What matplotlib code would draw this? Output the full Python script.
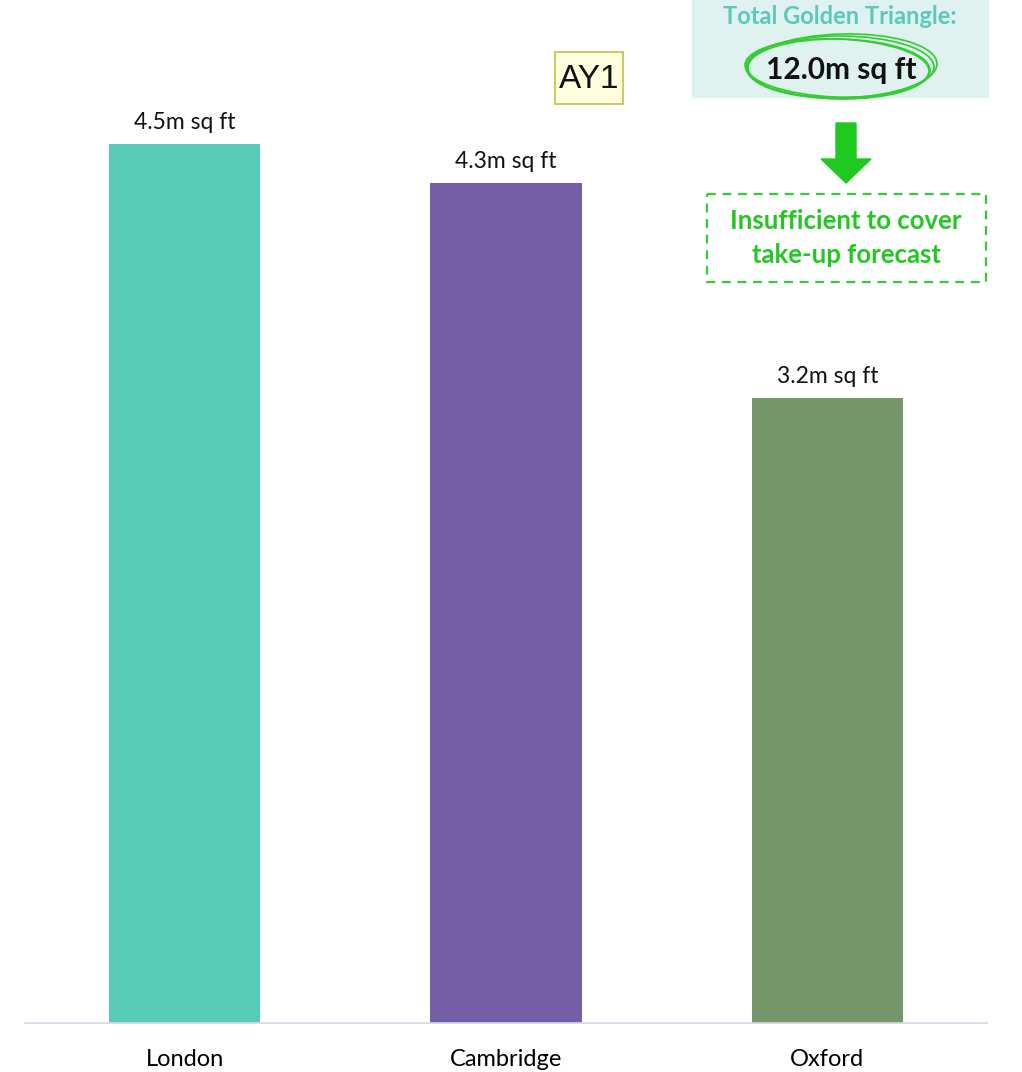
import matplotlib.pyplot as plt
from matplotlib.patches import Ellipse, Rectangle, FancyArrow

# data
cities = ["London", "Cambridge", "Oxford"]
supply = [4.5, 4.3, 3.2]   # m sq ft
labels = ["4.5m sq ft", "4.3m sq ft", "3.2m sq ft"]
colors = ["#56cbb8", "#745fa6", "#75956a"]
total_label = "12.0m sq ft"

W, H = 1022, 1072
fig = plt.figure(figsize=(W / 100, H / 100), dpi=100)
font = "Lato"

# main bar axes (pixel layout from the reference)
ax = fig.add_axes([24 / W, 48 / H, 964 / W, 1024 / H])
x = list(range(len(cities)))
ax.bar(x, supply, width=0.47, color=colors, zorder=2)
ax.set_xlim(-0.5, 2.5)
ax.set_ylim(0, 1024 / 195.5)
for xi, v, lab in zip(x, supply, labels):
    ax.text(xi, v + 0.06, lab, ha="center", va="bottom", fontsize=16.5, family=font, color="#111111")
ax.axhline(0, color="#d9dce8", lw=2.6, zorder=3)
for s in ax.spines.values():
    s.set_visible(False)
ax.set_yticks([])
ax.set_xticks(x)
ax.set_xticklabels(cities, fontsize=17, family=font)
ax.tick_params(axis="x", length=0, pad=18)

# overlay in pixel coordinates for the annotations
ov = fig.add_axes([0, 0, 1, 1])
ov.set_xlim(0, W)
ov.set_ylim(H, 0)
ov.axis("off")

# total box
ov.add_patch(Rectangle((692, -5), 296, 102, color="#dff2ef", zorder=1))
ov.text(840, 17, "Total Golden Triangle:", ha="center", va="center", fontsize=17,
        fontweight="bold", family=font, color="#5cc9b8")
ov.text(841, 70, total_label, ha="center", va="center", fontsize=21.5,
        fontweight="bold", family=font, color="#111111", zorder=3)
for dx, dy, w, h, a in [(0, 0, 188, 62, 0), (-3, 1, 184, 58, 2), (2, -1, 190, 64, -1.5), (-1, 2, 182, 60, 1)]:
    ov.add_patch(Ellipse((840 + dx, 67 + dy), w, h, angle=a, fill=False,
                         ec="#33cc33", lw=1.2, zorder=2))

# arrow
ov.add_patch(FancyArrow(846, 123, 0, 60, width=20, head_width=50, head_length=24,
                        length_includes_head=True, color="#1fc91f", zorder=2))

# dashed box
ov.add_patch(Rectangle((707, 194), 279, 88, fill=False, ec="#33cc33", lw=1.6,
                       ls=(0, (4, 3)), zorder=2))
ov.text(846, 238, "Insufficient to cover\ntake-up forecast", ha="center", va="center",
        fontsize=18.5, fontweight="bold", family=font, color="#22c722", linespacing=1.5)

# AY1 label
ov.add_patch(Rectangle((555, 52), 68, 52, fc="#ffffe0", ec="#c2c048", lw=1.2, zorder=1))
ov.text(589, 79, "AY1", ha="center", va="center", fontsize=24, family="Liberation Sans",
        color="#111111", zorder=2)

fig.savefig("out.png", dpi=100)
